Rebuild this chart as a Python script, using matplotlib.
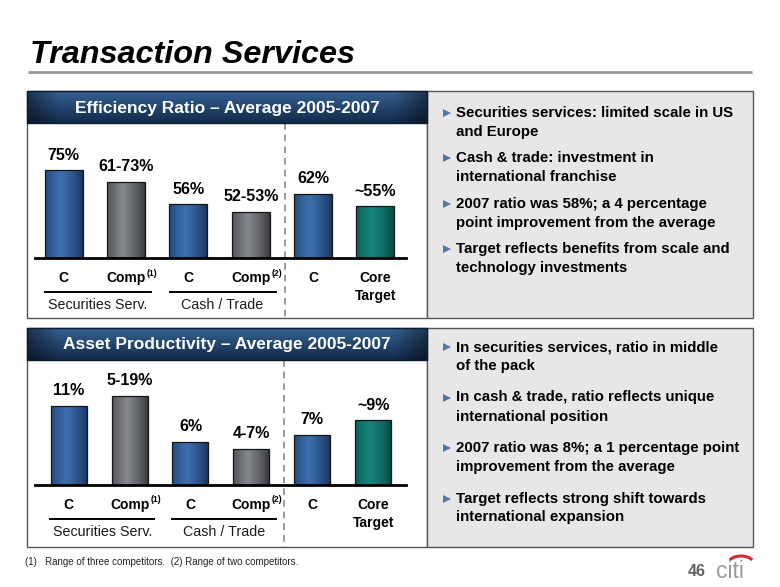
import matplotlib
matplotlib.use("Agg")
import matplotlib.pyplot as plt
import matplotlib.transforms as mtransforms
from matplotlib.patches import Rectangle, Arc
from matplotlib.lines import Line2D
import numpy as np

# ---------------- data ----------------
categories = ["C", "Comp", "C", "Comp", "C", "Core\nTarget"]
cat_notes = ["", "(1)", "", "(2)", "", ""]
bar_kinds = ["citi", "comp", "citi", "comp", "citi", "target"]

eff_title = "Efficiency Ratio \u2013 Average 2005-2007"
eff_labels = ["75%", "61-73%", "56%", "52-53%", "62%", "~55%"]
eff_values = [75, 68.5, 56, 51.7, 62, 55]

asset_title = "Asset Productivity \u2013 Average 2005-2007"
asset_labels = ["11%", "5-19%", "6%", "4-7%", "7%", "~9%"]
asset_values = [11, 12.4, 6, 5.0, 7, 9]

groups = ["Securities Serv.", "Cash / Trade"]
group_bars = [(0, 1), (2, 3)]

eff_bullets = [
    ["Securities services: limited scale in US", "and Europe"],
    ["Cash & trade: investment in", "international franchise"],
    ["2007 ratio was 58%; a 4 percentage", "point improvement from the average"],
    ["Target reflects benefits from scale and", "technology investments"],
]
asset_bullets = [
    ["In securities services, ratio in middle", "of the pack"],
    ["In cash & trade, ratio reflects unique", "international position"],
    ["2007 ratio was 8%; a 1 percentage point", "improvement from the average"],
    ["Target reflects strong shift towards", "international expansion"],
]
page_title = "Transaction Services"
footnote = "(1)   Range of three competitors.  (2) Range of two competitors."
page_number = "46"

# ---------------- style ----------------
W, H, DPI = 780, 587, 100
plt.rcParams["font.family"] = ["Liberation Sans", "DejaVu Sans"]
bar_colors = {
    "citi": ("#1a355e", "#3d70b0"),
    "comp": ("#35383d", "#85888d"),
    "target": ("#094a45", "#16877c"),
}

fig = plt.figure(figsize=(W / DPI, H / DPI), dpi=DPI)
ov = fig.add_axes([0, 0, 1, 1])
ov.set_xlim(0, W)
ov.set_ylim(H, 0)
ov.axis("off")

# title + rule
ov.text(30, 63, page_title, fontsize=23.3, fontweight="bold", fontstyle="italic",
        va="baseline", ha="left", color="black")
ov.plot([28, 752], [71.5, 71.5], color="#9a9a9a", lw=2, solid_capstyle="butt")


def header_gradient(x0, x1, y0, y1, title):
    ny, nx = 40, 200
    top = np.array([0x35, 0x62, 0x93]) / 255
    bot = np.array([0x13, 0x2a, 0x4a]) / 255
    t = np.linspace(0, 1, ny)[:, None, None]
    col = top * (1 - t) + bot * t
    u = np.linspace(0, 1, nx)
    edge = np.clip(np.minimum(u, 1 - u) / 0.08, 0, 1)
    fac = 0.55 + 0.45 * edge
    img = col * fac[None, :, None]
    img = np.broadcast_to(img, (ny, nx, 3))
    ov.imshow(img, extent=(x0, x1, y1, y0), aspect="auto", zorder=2,
              interpolation="bilinear")
    ov.add_patch(Rectangle((x0, y0), x1 - x0, y1 - y0, fill=False,
                           edgecolor="#0d1c33", lw=1, zorder=3))
    ov.text((x0 + x1) / 2, (y0 + y1) / 2 + 1, title, color="white",
            fontsize=12.5, fontweight="bold", ha="center", va="center", zorder=4)


def panel(y0, y1, title):
    ov.add_patch(Rectangle((27, y0), 400, y1 - y0, facecolor="white",
                           edgecolor="#555555", lw=1, zorder=1))
    ov.add_patch(Rectangle((427, y0), 326, y1 - y0, facecolor="#e7e7e7",
                           edgecolor="#555555", lw=1, zorder=1))
    header_gradient(27, 427, y0, y0 + 32, title)


panel(91, 318, eff_title)
panel(328, 547, asset_title)

# dashed separators
ov.plot([285, 285], [123, 318], color="#8a8a8a", lw=1.2, ls=(0, (4, 3)), zorder=2)
ov.plot([284, 284], [360, 547], color="#8a8a8a", lw=1.2, ls=(0, (4, 3)), zorder=2)


def bullets(items, y_start, gap):
    for k, lines in enumerate(items):
        y = y_start + k * gap
        ov.plot([447], [y], marker=">", markersize=5.5, color="#5677a3",
                markeredgewidth=0, zorder=4)
        for j, line in enumerate(lines):
            ov.text(456, y + j * 19, line, fontsize=10.8, fontweight="bold",
                    ha="left", va="center", color="black", zorder=4)


bullets(eff_bullets, 113, 45.3)
bullets(asset_bullets, 347, 50.5)

# footnote, page number, logo
ov.text(25, 562, footnote, fontsize=7.0, ha="left", va="center", color="#222222")
ov.text(688, 572, page_number, fontsize=11.5, fontweight="bold", ha="left",
        va="center", color="#606060")
ov.text(716, 571, "citi", fontsize=16.5, ha="left", va="center", color="#9a9a9a")
ov.add_patch(Arc((741, 564), 26, 16, theta1=200, theta2=340, color="#d52b2f",
                 lw=2.2))


def chart(values, labels, top_px, base_px, x0_px, pitch_px, barw_px, vmin, ppu):
    left, right = 27, 427
    ax = fig.add_axes([left / W, 1 - base_px / H, (right - left) / W,
                       (base_px - top_px) / H])
    ax.patch.set_alpha(0)
    xlim = ((left - x0_px) / pitch_px, (right - x0_px) / pitch_px)
    ylim = (vmin, vmin + (base_px - top_px) / ppu)
    width = barw_px / pitch_px
    xs = np.arange(len(values))
    heights = np.array(values, dtype=float) - vmin
    bars = ax.bar(xs, heights, bottom=vmin, width=width, edgecolor="#161616",
                  lw=0.9, zorder=2)
    u = np.linspace(0, 1, 80)
    prof = np.clip(1 - np.abs(u - 0.42) / 0.58, 0, 1) ** 0.8
    for patch, kind in zip(bars, bar_kinds):
        dark = np.array(matplotlib.colors.to_rgb(bar_colors[kind][0]))
        light = np.array(matplotlib.colors.to_rgb(bar_colors[kind][1]))
        rgb = dark[None, :] * (1 - prof[:, None]) + light[None, :] * prof[:, None]
        bx, by = patch.get_x(), patch.get_y()
        bw, bh = patch.get_width(), patch.get_height()
        im = ax.imshow(rgb[None, :, :], extent=(bx, bx + bw, by, by + bh),
                       aspect="auto", zorder=2.5, interpolation="bilinear")
        im.set_clip_path(patch)
        patch.set_facecolor("none")
        patch.set_zorder(3)
    ax.set_xlim(*xlim)
    ax.set_ylim(*ylim)
    ax.set_aspect("auto")
    ax.axis("off")
    ax.axhline(vmin, xmin=(35 - left) / (right - left),
               xmax=(406 - left) / (right - left), color="black", lw=2,
               clip_on=False, zorder=4)
    for x, v, lab in zip(xs, values, labels):
        ax.annotate(lab, (x, v), xytext=(0, 15), textcoords="offset pixels",
                    ha="center", va="center", fontsize=11.5, fontweight="bold",
                    annotation_clip=False)
    for x, cat, note in zip(xs, categories, cat_notes):
        ax.annotate(cat, (x, vmin), xytext=(0, -13), textcoords="offset pixels",
                    ha="center", va="top", fontsize=10, fontweight="bold",
                    linespacing=1.35, annotation_clip=False)
        if note:
            ax.annotate(note, (x, vmin), xytext=(26, -15),
                        textcoords="offset pixels", ha="center", va="center",
                        fontsize=6.3, fontweight="bold", annotation_clip=False)
    for name, (a, b) in zip(groups, group_bars):
        tr = ax.transData + mtransforms.ScaledTranslation(0, -34 / DPI,
                                                          fig.dpi_scale_trans)
        ax.add_line(Line2D([a - 0.3, b + 0.4], [vmin, vmin], color="black",
                           lw=1.4, transform=tr, clip_on=False))
        ax.annotate(name, ((a + b) / 2 + 0.05, vmin), xytext=(0, -47),
                    textcoords="offset pixels", ha="center", va="center",
                    fontsize=10.3, color="#1a1a1a", annotation_clip=False)
    return ax


chart(eff_values, eff_labels, 123, 258, 63.5, 62.4, 38, 26, 1.79)
chart(asset_values, asset_labels, 360, 485, 68.7, 60.9, 36, 0, 7.2)

fig.savefig("out.png", dpi=DPI)
